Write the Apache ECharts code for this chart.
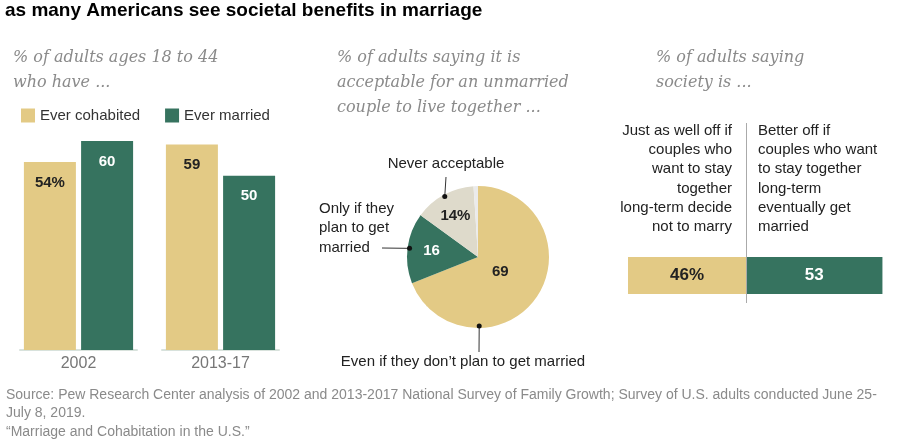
<!DOCTYPE html>
<html>
<head>
<meta charset="utf-8">
<script src="https://cdn.jsdelivr.net/npm/echarts@6/dist/echarts.min.js"></script>
<style>
  html, body { margin: 0; padding: 0; background: #fff; }
  #chart { width: 900px; height: 444px; }
</style>
</head>
<body>
<div id="chart"></div>
<script>
// left panel: % of adults 18-44 who have ...
const years = ['2002', '2013-17'];
const everCohabited = [54, 59];
const everMarried = [60, 50];

// middle panel: acceptable for an unmarried couple to live together
const pieNames = ['Even if they don\u2019t plan to get married', 'Only if they\nplan to get\nmarried', 'Never acceptable', 'No answer'];
const pieValues = [69, 16, 14, 1];
const pieLabels = ['69', '16', '14%', ''];

// right panel: society is ...
const societyNames = ['Just as well off if\ncouples who\nwant to stay\ntogether\nlong-term decide\nnot to marry',
  'Better off if\ncouples who want\nto stay together\nlong-term\neventually get\nmarried'];
const societyValues = [46, 53];
const societyLabels = ['46%', '53'];

const YELLOW = '#e3ca85';
const GREEN = '#36735f';
const BEIGE = '#dedacb';
const LIGHT = '#ebebeb';
const SANS = '"Liberation Sans", Arial, sans-serif';
const SERIF = '"DejaVu Serif", Georgia, serif';

const chart = echarts.init(document.getElementById('chart'));

// pie geometry
const PIE_C = [478, 257];
const PIE_R = 71;
const pieTotal = pieValues.reduce((a, b) => a + b, 0);
let acc = 0;
const pieMid = pieValues.map(v => { const m = (acc + v / 2) / pieTotal * 360; acc += v; return m; });

// outside labels: text anchor, start of leader line, angle of the dot on the rim
const pieOuter = [
  { text: [463, 362], align: 'center', from: [479, 352], angle: 179 },
  { text: [319, 228], align: 'left', from: [382, 248], angle: pieMid[1] },
  { text: [446, 164], align: 'center', from: [446, 177], angle: pieMid[2] },
  null
];
// how far from the centre the numbers inside the slices sit (share of radius)
const pieInnerR = [0.38, 0.66, 0.66, 0];

function rimPoint(angle, r) {
  const a = angle * Math.PI / 180;
  return [PIE_C[0] + r * Math.sin(a), PIE_C[1] - r * Math.cos(a)];
}

const barGrids = years.map((y, i) => ({ left: 20 + i * 142, width: 117, top: 141, height: 209 }));

const xAxes = years.map((y, i) => ({
  type: 'category', gridIndex: i, data: [y],
  axisLine: { lineStyle: { color: '#d8e2dc', width: 2 } },
  axisTick: { show: false },
  axisLabel: { color: '#777', fontSize: 16, fontFamily: SANS, margin: 6 }
}));
const yAxes = years.map((y, i) => ({ type: 'value', gridIndex: i, min: 0, max: 60, show: false }));

const barSeries = [];
years.forEach((y, i) => {
  barSeries.push({
    name: 'Ever cohabited', type: 'bar', xAxisIndex: i, yAxisIndex: i,
    data: [everCohabited[i]], barWidth: 52, barGap: '10%',
    itemStyle: { color: YELLOW },
    label: {
      show: true, position: 'insideTop', distance: 13,
      fontFamily: SANS, fontWeight: 'bold', fontSize: 15, color: '#222',
      formatter: p => i === 0 ? p.value + '%' : String(p.value)
    }
  });
  barSeries.push({
    name: 'Ever married', type: 'bar', xAxisIndex: i, yAxisIndex: i,
    data: [everMarried[i]], barWidth: 52, barGap: '10%',
    itemStyle: { color: GREEN },
    label: {
      show: true, position: 'insideTop', distance: 13,
      fontFamily: SANS, fontWeight: 'bold', fontSize: 15, color: '#fff'
    }
  });
});

const pieColors = [YELLOW, GREEN, BEIGE, LIGHT];

const dots = pieOuter.filter(o => o).map(o => {
  const p = rimPoint(o.angle, PIE_R - 2);
  return { type: 'circle', shape: { cx: p[0], cy: p[1], r: 2.5 }, style: { fill: '#111' }, z: 100 };
});

const subStyle = { fill: '#8a8a8a', fontFamily: SERIF, fontStyle: 'italic', fontSize: 16, lineHeight: 25 };
const blockStyle = { fill: '#222', fontFamily: SANS, fontSize: 15, lineHeight: 19.3 };

chart.setOption({
  animation: false,
  legend: {
    data: ['Ever cohabited', 'Ever married'],
    left: 21, top: 108, padding: 0, icon: 'rect', itemWidth: 14, itemHeight: 14, itemGap: 25,
    textStyle: { color: '#333', fontSize: 15, fontFamily: SANS }
  },
  grid: barGrids.concat([{ left: 628, width: 257, top: 257, height: 37 }]),
  xAxis: xAxes.concat([{ type: 'value', gridIndex: 2, min: 0, max: 100, show: false }]),
  yAxis: yAxes.concat([{ type: 'category', gridIndex: 2, data: ['society'], show: false }]),
  series: barSeries.concat([
    {
      type: 'pie', center: PIE_C, radius: PIE_R, startAngle: 90, clockwise: true, silent: true,
      data: pieValues.map((v, i) => ({
        name: pieNames[i], value: v, itemStyle: { color: pieColors[i] },
        label: { color: i === 1 ? '#fff' : '#222' }
      })),
      label: {
        show: true, position: 'inside', fontFamily: SANS, fontWeight: 'bold', fontSize: 15,
        formatter: p => pieLabels[p.dataIndex]
      },
      labelLayout: p => {
        const pt = rimPoint(pieMid[p.dataIndex], PIE_R * pieInnerR[p.dataIndex]);
        return { x: pt[0], y: pt[1], align: 'center', verticalAlign: 'middle' };
      }
    },
    {
      type: 'pie', center: PIE_C, radius: PIE_R, startAngle: 90, clockwise: true, silent: true,
      data: pieValues.map((v, i) => ({ name: pieNames[i], value: v })),
      itemStyle: { color: 'rgba(0,0,0,0)' },
      label: {
        show: true, position: 'outside', color: '#222', fontFamily: SANS, fontSize: 15, lineHeight: 19.5,
        formatter: p => pieOuter[p.dataIndex] ? p.name : ''
      },
      labelLine: { show: true, lineStyle: { color: '#333', width: 1 } },
      labelLayout: p => {
        const o = pieOuter[p.dataIndex];
        if (!o) return { x: -100, y: -100, labelLinePoints: [[-100, -100], [-100, -100], [-100, -100]] };
        const end = rimPoint(o.angle, PIE_R - 2);
        return {
          x: o.text[0], y: o.text[1], align: o.align, verticalAlign: 'middle',
          labelLinePoints: [o.from, o.from, end]
        };
      }
    },
    {
      name: 'Just as well off', type: 'bar', stack: 'soc', xAxisIndex: 2, yAxisIndex: 2,
      data: [societyValues[0]], barWidth: 37, itemStyle: { color: YELLOW },
      label: { show: true, position: 'inside', formatter: societyLabels[0], fontFamily: SANS, fontWeight: 'bold', fontSize: 17, color: '#222' },
      markLine: {
        silent: true, symbol: 'none', label: { show: false },
        lineStyle: { color: '#aaa', width: 1, type: 'solid' },
        data: [[{ coord: [societyValues[0], 0], y: 123 }, { coord: [societyValues[0], 0], y: 303 }]]
      }
    },
    {
      name: 'Better off', type: 'bar', stack: 'soc', xAxisIndex: 2, yAxisIndex: 2,
      data: [societyValues[1]], barWidth: 37, itemStyle: { color: GREEN },
      label: { show: true, position: 'inside', formatter: societyLabels[1], fontFamily: SANS, fontWeight: 'bold', fontSize: 17, color: '#fff' }
    }
  ]),
  graphic: [
    { type: 'text', x: 5, y: 11, style: { text: 'as many Americans see societal benefits in marriage', fill: '#000', fontFamily: SANS, fontWeight: 'bold', fontSize: 19, verticalAlign: 'middle' } },
    { type: 'text', x: 13, y: 45, style: Object.assign({ text: '% of adults ages 18 to 44\nwho have ...' }, subStyle) },
    { type: 'text', x: 337, y: 45, style: Object.assign({ text: '% of adults saying it is\nacceptable for an unmarried\ncouple to live together ...' }, subStyle) },
    { type: 'text', x: 656, y: 45, style: Object.assign({ text: '% of adults saying\nsociety is ...' }, subStyle) },
    { type: 'text', x: 732, y: 121, style: Object.assign({ text: societyNames[0], align: 'right' }, blockStyle) },
    { type: 'text', x: 758, y: 121, style: Object.assign({ text: societyNames[1], align: 'left' }, blockStyle) },
    { type: 'text', x: 6, y: 386, style: { text: 'Source: Pew Research Center analysis of 2002 and 2013-2017 National Survey of Family Growth; Survey of U.S. adults conducted June 25-\nJuly 8, 2019.\n\u201cMarriage and Cohabitation in the U.S.\u201d', fill: '#8a8a8a', fontFamily: SANS, fontSize: 14, lineHeight: 18.3 } }
  ].concat(dots)
});
</script>
</body>
</html>
